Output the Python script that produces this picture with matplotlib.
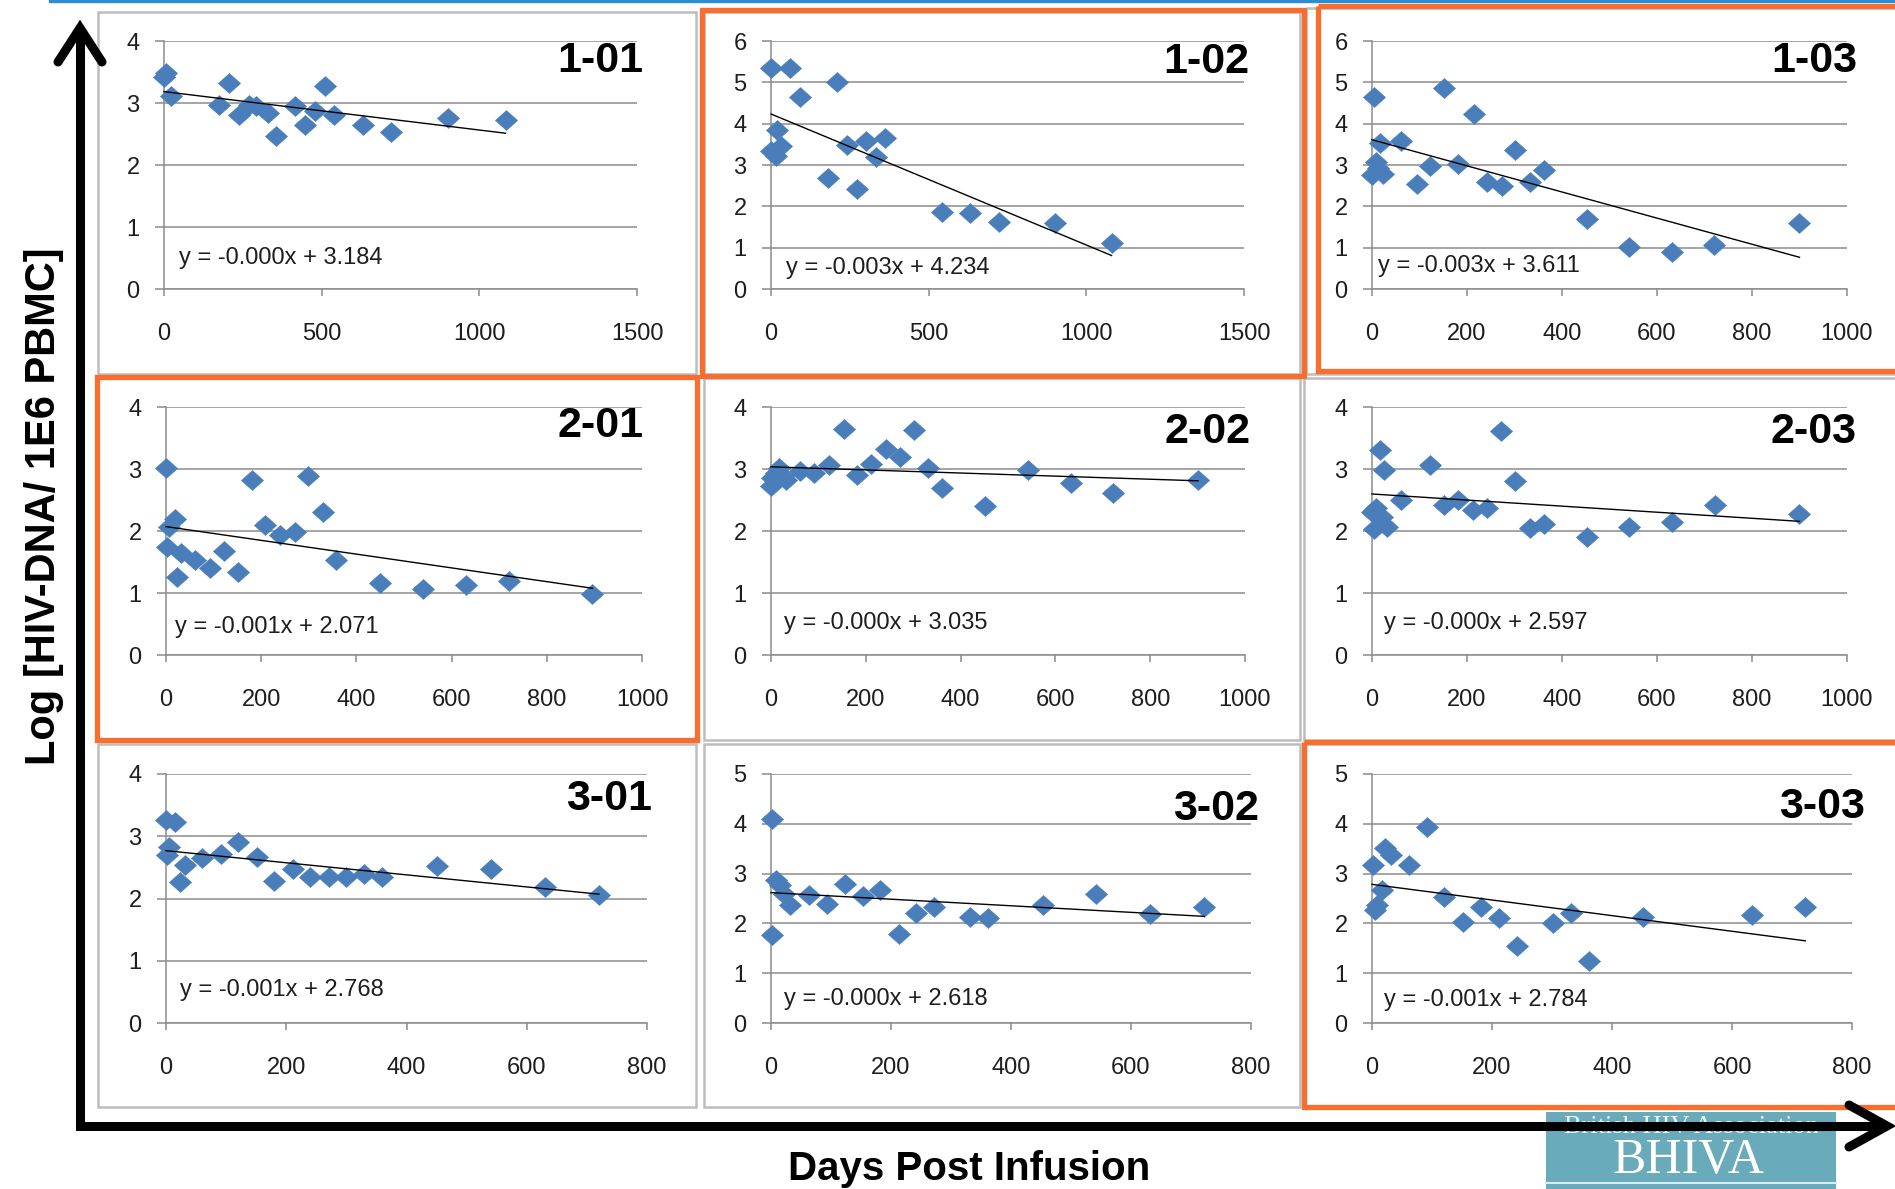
import numpy as np
import matplotlib
matplotlib.use("Agg")
import matplotlib.pyplot as plt
from matplotlib.path import Path
from matplotlib.patches import Rectangle

# ---------------- data ----------------
panel_ids = ["1-01", "1-02", "1-03", "2-01", "2-02", "2-03", "3-01", "3-02", "3-03"]

days_1_01 = [0, 5, 23, 175, 206, 237, 268, 293, 330, 354, 416, 447, 478, 509, 540, 630, 721, 901, 1083]
dna_1_01 = [3.42, 3.48, 3.11, 2.96, 3.33, 2.80, 2.97, 2.95, 2.84, 2.46, 2.95, 2.65, 2.87, 3.28, 2.80, 2.65, 2.53, 2.76, 2.73]

days_1_02 = [0, 0, 15, 20, 33, 60, 93, 182, 210, 241, 272, 302, 332, 362, 542, 632, 722, 900, 1080]
dna_1_02 = [5.34, 3.33, 3.22, 3.85, 3.45, 5.34, 4.64, 2.68, 5.02, 3.49, 2.42, 3.58, 3.20, 3.65, 1.86, 1.84, 1.63, 1.59, 1.11]

days_1_03 = [0, 4, 8, 12, 16, 24, 62, 94, 122, 152, 182, 214, 242, 274, 302, 332, 362, 452, 542, 632, 720, 900]
dna_1_03 = [2.76, 4.65, 3.08, 2.92, 3.53, 2.78, 3.58, 2.54, 2.98, 4.86, 3.02, 4.23, 2.60, 2.50, 3.37, 2.60, 2.88, 1.69, 1.01, 0.89, 1.07, 1.59]

days_2_01 = [0, 2, 7, 19, 23, 31, 60, 92, 121, 152, 181, 209, 240, 270, 299, 330, 358, 450, 539, 630, 720, 896]
dna_2_01 = [3.02, 1.75, 2.07, 2.20, 1.26, 1.64, 1.53, 1.41, 1.68, 1.34, 2.82, 2.10, 1.94, 1.99, 2.88, 2.31, 1.53, 1.16, 1.06, 1.13, 1.19, 0.99]

days_2_02 = [0, 2, 11, 17, 25, 31, 62, 91, 123, 153, 182, 212, 242, 272, 302, 332, 361, 452, 542, 632, 721, 901]
dna_2_02 = [2.72, 2.85, 2.93, 3.01, 2.88, 2.82, 2.96, 2.94, 3.06, 3.65, 2.90, 3.08, 3.32, 3.20, 3.63, 3.01, 2.69, 2.40, 2.98, 2.77, 2.61, 2.83]

days_2_03 = [0, 4, 8, 16, 20, 26, 32, 62, 122, 152, 182, 212, 242, 272, 302, 332, 362, 452, 542, 632, 722, 900]
dna_2_03 = [2.31, 2.04, 2.37, 3.31, 2.22, 2.98, 2.07, 2.50, 3.06, 2.42, 2.50, 2.34, 2.37, 3.61, 2.80, 2.05, 2.11, 1.91, 2.07, 2.15, 2.42, 2.27]

days_3_01 = [0, 2, 5, 15, 23, 31, 60, 91, 120, 151, 180, 211, 240, 271, 300, 329, 360, 450, 541, 630, 720]
dna_3_01 = [3.26, 2.70, 2.83, 3.23, 2.27, 2.54, 2.65, 2.72, 2.91, 2.67, 2.28, 2.48, 2.35, 2.34, 2.35, 2.40, 2.35, 2.52, 2.48, 2.19, 2.05]

days_3_02 = [2, 2, 8, 15, 21, 31, 64, 93, 123, 153, 182, 213, 242, 271, 332, 362, 453, 542, 631, 722]
dna_3_02 = [4.09, 1.76, 2.87, 2.77, 2.60, 2.37, 2.57, 2.38, 2.79, 2.55, 2.67, 1.78, 2.20, 2.32, 2.13, 2.10, 2.37, 2.59, 2.19, 2.32]

days_3_03 = [2, 5, 9, 16, 22, 32, 62, 92, 120, 152, 182, 212, 242, 302, 332, 362, 452, 633, 722]
dna_3_03 = [3.17, 2.27, 2.37, 2.67, 3.51, 3.38, 3.17, 3.93, 2.53, 2.03, 2.33, 2.10, 1.54, 2.00, 2.21, 1.24, 2.13, 2.16, 2.33]

trend_intercepts = [3.184, 4.234, 3.611, 2.071, 3.035, 2.597, 2.768, 2.618, 2.784]
trend_slopes = [-0.00062, -0.00317, -0.00316, -0.00111, -0.00025, -0.00049, -0.00097, -0.00066, -0.00157]
equation_labels = ["y = -0.000x + 3.184", "y = -0.003x + 4.234", "y = -0.003x + 3.611",
                   "y = -0.001x + 2.071", "y = -0.000x + 3.035", "y = -0.000x + 2.597",
                   "y = -0.001x + 2.768", "y = -0.000x + 2.618", "y = -0.001x + 2.784"]
x_max = [1500, 1500, 1000, 1000, 1000, 1000, 800, 800, 800]
x_step = [500, 500, 200, 200, 200, 200, 200, 200, 200]
y_max = [4, 6, 6, 4, 4, 4, 4, 5, 5]
highlighted = ["1-02", "1-03", "2-01", "3-03"]
y_label = "Log [HIV-DNA/ 1E6 PBMC]"
x_label = "Days Post Infusion"

days_all = [days_1_01, days_1_02, days_1_03, days_2_01, days_2_02, days_2_03, days_3_01, days_3_02, days_3_03]
dna_all = [dna_1_01, dna_1_02, dna_1_03, dna_2_01, dna_2_02, dna_2_03, dna_3_01, dna_3_02, dna_3_03]

# ---------------- layout (pixels in the 1895x1189 canvas) ----------------
W, H = 1895, 1189
# plot areas: left, right, bottom (y=0 line), top
plot_px = [(164, 637, 289, 41), (771, 1244, 289, 41), (1372, 1847, 289, 41),
           (166, 642, 655, 407), (771, 1245, 655, 407), (1372, 1847, 655, 407),
           (166, 647, 1023, 774), (771, 1251, 1023, 774), (1372, 1852, 1023, 774)]
title_dx = [6, 5, 10, 2, 6, 10, 5, 8, 13]
title_base = [72, 73, 72, 437, 443, 443, 810, 820, 818]
eq_dx = [15, 15, 6, 9, 13, 12, 14, 13, 12]
eq_dy = [31, 21, 23, 28, 32, 32, 33, 24, 23]
# chart-area frames: left, top, right, bottom
frame_px = [(98, 12, 696, 374), (704, 12, 1300, 374), (1306, 8, 1900, 374),
            (98, 378, 696, 740), (704, 378, 1300, 740), (1304, 378, 1900, 740),
            (98, 744, 696, 1107), (704, 744, 1300, 1107), (1304, 744, 1900, 1107)]
orange_px = {"1-02": (702, 10, 1304, 376), "1-03": (1318, 6, 1905, 371),
             "2-01": (97, 377, 697, 740), "3-03": (1304, 742, 1905, 1107)}

plt.rcParams["font.family"] = ["Liberation Sans", "DejaVu Sans"]

BLUE = "#4A7EBB"
GRID = "#8C8C8C"
ORANGE = "#F96E2F"
TXT = "#1E1E1E"

fig = plt.figure(figsize=(W / 100, H / 100), dpi=100)
bg = fig.add_axes([0, 0, 1, 1], zorder=0)
bg.set_xlim(0, W)
bg.set_ylim(H, 0)
bg.axis("off")

diamond = Path([(-1, 0), (0, 0.9), (1, 0), (0, -0.9), (-1, 0)],
               [Path.MOVETO, Path.LINETO, Path.LINETO, Path.LINETO, Path.CLOSEPOLY])

# frames
for pid, (l, t, r, b) in zip(panel_ids, frame_px):
    bg.add_patch(Rectangle((l, t), r - l, b - t, fill=False, ec="#BDBDBD", lw=1.8, zorder=1))
for pid, (l, t, r, b) in orange_px.items():
    bg.add_patch(Rectangle((l, t), r - l, b - t, fill=False, ec=ORANGE, lw=3.8, zorder=2))

for i, pid in enumerate(panel_ids):
    l, r, b, t = plot_px[i]
    ax = fig.add_axes([l / W, 1 - b / H, (r - l) / W, (b - t) / H], zorder=3)
    ax.set_facecolor("none")
    ax.set_xlim(0, x_max[i])
    ax.set_ylim(0, y_max[i])
    ax.set_xticks(np.arange(0, x_max[i] + 1, x_step[i]))
    ax.set_yticks(np.arange(0, y_max[i] + 1, 1))
    ax.grid(axis="y", color=GRID, lw=1.1)
    ax.set_axisbelow(True)
    for s in ["top", "right"]:
        ax.spines[s].set_visible(False)
    for s in ["left", "bottom"]:
        ax.spines[s].set_color(GRID)
        ax.spines[s].set_linewidth(1.1)
    ax.tick_params(axis="x", direction="out", length=5, width=1.1, color=GRID,
                   pad=19.5, labelsize=17, labelcolor=TXT)
    ax.tick_params(axis="y", direction="out", length=6.5, width=1.1, color=GRID,
                   pad=11, labelsize=17, labelcolor=TXT)
    xs = np.array(days_all[i], dtype=float)
    ys = np.array(dna_all[i], dtype=float)
    ax.plot(xs, ys, ls="none", marker=diamond, ms=16, mfc=BLUE, mec=BLUE,
            mew=0.4, clip_on=False, zorder=3)
    tx = np.array([0.0, xs.max()])
    ax.plot(tx, trend_intercepts[i] + trend_slopes[i] * tx, color="black",
            lw=1.0, zorder=4, clip_on=False)
    bg.text(l + eq_dx[i], b - eq_dy[i], equation_labels[i], fontsize=17,
            color=TXT, ha="left", va="center", zorder=5)
    bg.text(r + title_dx[i], title_base[i], pid, fontsize=31, fontweight="bold",
            color="black", ha="right", va="baseline", zorder=5)

# axis titles
bg.text(44, 506, y_label, rotation=90, fontsize=30, fontweight="bold",
        ha="center", va="center", color="black")
bg.text(969, 1180, x_label, fontsize=29, fontweight="bold",
        ha="center", va="baseline", color="black")

# top blue rule
bg.plot([50, W], [1, 1], color="#2E8CD3", lw=2.4, zorder=1)

# BHIVA logo
bg.add_patch(Rectangle((1546, 1112), 290, 80, fc="#69ABBA", ec="none", zorder=2))
bg.plot([1546, 1836], [1183, 1183], color="#D9EEF2", lw=1.5, zorder=2)
bg.text(1691, 1127, "British HIV Association", fontsize=19, color="#EAF5F7",
        family=["Liberation Serif", "DejaVu Serif"], ha="center", va="center", zorder=2)
bg.text(1689, 1161, "BHIVA", fontsize=36, color="white",
        family=["Liberation Serif", "DejaVu Serif"], ha="center", va="center", zorder=2)

# big arrows
bg.plot([80, 80, 1884], [32, 1126, 1126], color="black", lw=6.5,
        solid_joinstyle="miter", solid_capstyle="butt", zorder=6)
bg.plot([58, 80, 102], [62, 28, 62], color="black", lw=6.5,
        solid_joinstyle="miter", solid_capstyle="round", zorder=6)
bg.plot([1849, 1887, 1849], [1105, 1126, 1147], color="black", lw=6.5,
        solid_joinstyle="miter", solid_capstyle="round", zorder=6)

fig.savefig("out.png", dpi=100, facecolor="white")
